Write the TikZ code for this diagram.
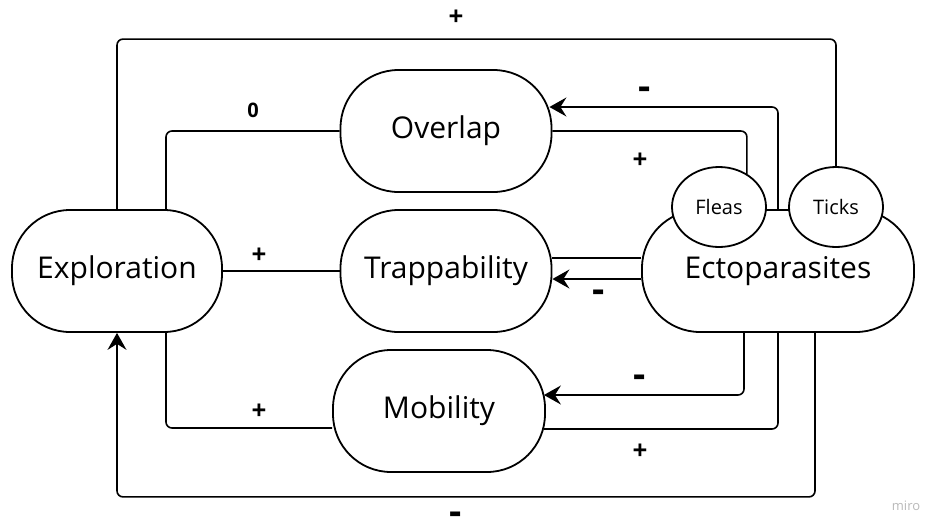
\documentclass[tikz,border=0pt]{standalone}
\usepackage{fontspec}
\setmainfont{Open Sans}
\usetikzlibrary{arrows.meta,calc,shapes.geometric}

\begin{document}
\begin{tikzpicture}[
    x=1pt, y=-1pt,
    pill/.style={rectangle, draw, line width=1.8pt, rounded corners=58pt, fill=white, minimum width=210pt, minimum height=122pt, inner sep=0pt, font=\fontsize{30}{34}\selectfont},
    bubble/.style={ellipse, draw, line width=1.8pt, fill=white, minimum width=94pt, minimum height=80pt, inner sep=0pt, font=\fontsize{20}{24}\selectfont},
    link/.style={line width=1.6pt, rounded corners=6pt},
    arrow/.style={link, -{Stealth[length=17pt,width=19pt,inset=6pt]}},
    sign/.style={inner sep=0pt, font=\bfseries\fontsize{26}{30}\selectfont},
    minus/.style={inner sep=0pt, font=\bfseries\fontsize{38}{40}\selectfont}
]
\useasboundingbox (0,0) rectangle (929,525);

% Nodes
\node[pill] (expl) at (117,271) {Exploration};
\node[pill, minimum width=211pt] (over) at (446,131) {Overlap};
\node[pill, minimum width=211pt] (trap) at (446,271) {Trappability};
\node[pill, minimum width=212pt] (mob) at (439,411) {Mobility};
\node[pill, minimum width=272pt] (ecto) at (778,271) {Ectoparasites};
\node[bubble] (fleas) at (719,207) {Fleas};
\node[bubble] (ticks) at (836,207) {Ticks};

% Routing points
\coordinate (top) at ($(expl.north)+(0,-170)$);
\coordinate (bottom) at ($(expl.south)+(0,164)$);

% Arrows
\draw[link] (ticks.north) |- (top) -- (expl.north);
\draw[link] (over.west) -| ([xshift=49pt]expl.north);
\draw[arrow] (ecto.north) |- ($(over.east)+(-3,-24)$);
\draw[link] (over.east) -| (fleas.50);
\draw[link] (expl.east) -- (trap.west);
\draw[link] ($(trap.east)+(0,-13)$) -- ($(ecto.west)+(0,-13)$);
\draw[arrow] ($(ecto.west)+(0,8)$) -- ($(trap.east)+(0,8)$);
\draw[link] ($(mob.west)+(0,17)$) -| ([xshift=49pt]expl.south);
\draw[arrow] ([xshift=-34pt]ecto.south) |- ($(mob.east)+(-2,-16)$);
\draw[link] ($(mob.east)+(-2,18)$) -| (ecto.south);
\draw[arrow] ([xshift=37pt]ecto.south) |- (bottom) -- (expl.south);

% Signs
\node[sign] (toploop) at (456,18) {+};
\node[sign, font=\bfseries\fontsize{20}{24}\selectfont] (zero) at (253,110) {0};
\node[minus] (overneg) at (645,93) {-};
\node[sign] (overpos) at (640,161) {+};
\node[sign] (trappos) at (259,256) {+};
\node[minus] (trapneg) at (599,296) {-};
\node[sign] (mobpos) at (259,412) {+};
\node[minus] (mobneg) at (640,381) {-};
\node[sign] (mobpos2) at (640,452) {+};
\node[minus] (botloop) at (456,518) {-};

\node[font=\fontsize{13}{15}\selectfont, text=gray!55] (miro) at (906,506) {miro};
\end{tikzpicture}
\end{document}
